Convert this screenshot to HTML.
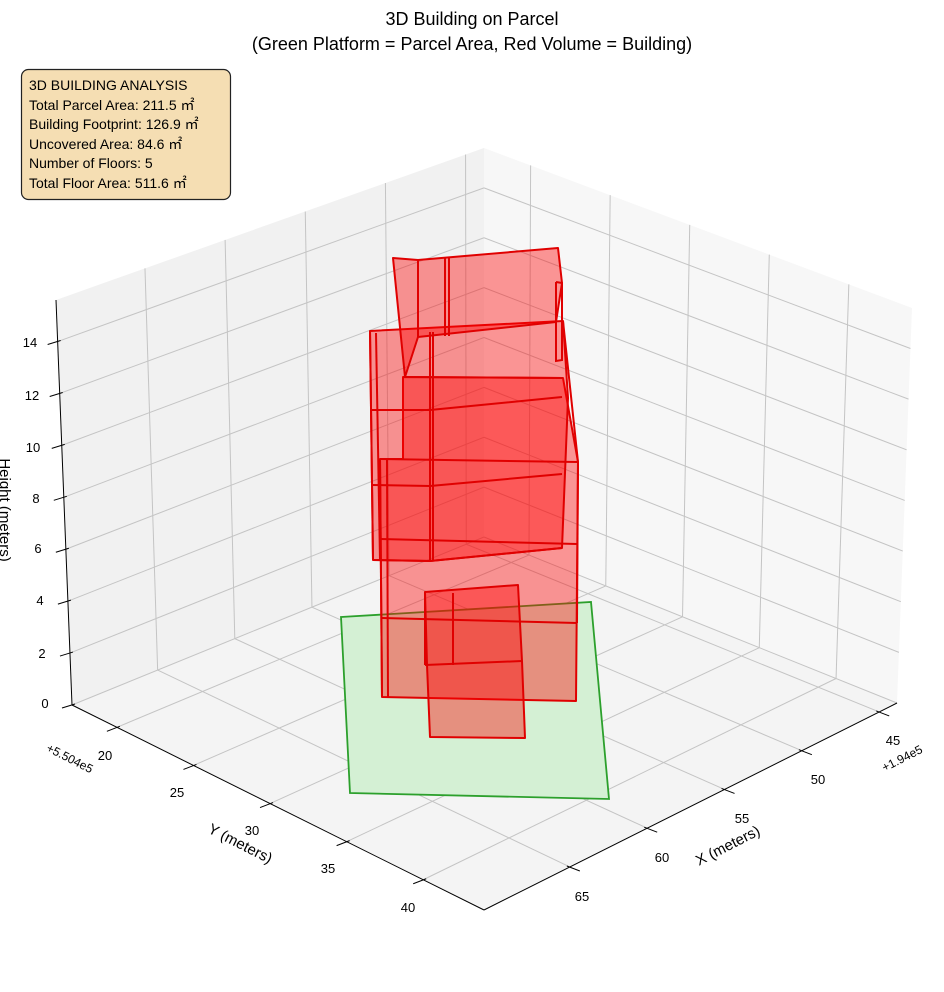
<!DOCTYPE html>
<html><head><meta charset="utf-8"><style>
html,body{margin:0;padding:0;background:#fff;}
svg{display:block;font-family:"Liberation Sans","Noto Sans CJK JP",sans-serif;}
</style></head><body>
<svg id="s" width="944" height="992" viewBox="0 0 944 992" xmlns="http://www.w3.org/2000/svg">
<rect width="944" height="992" fill="#fff"/>
<g id="panes"></g>
<g id="grid" stroke="#c4c4c4" stroke-width="1" fill="none"></g>
<g id="axes" stroke="#000" stroke-width="1" fill="none"></g>
<!-- parcel -->
<polygon points="341,617 591,602 609,799 350,793" fill="#d4f0d4" stroke="#2ca02c" stroke-width="1.8"/>
<!-- building -->
<g stroke="#e00000" stroke-width="2" stroke-linejoin="round">
<polygon points="403,377 563,378 578,462 576,701 382,697 380,459 403,459" fill="rgba(255,0,0,0.4)"/>
<polygon points="370,331 563,321 568,398 562,548 430,561 373,560" fill="rgba(255,0,0,0.4)"/>
<polygon points="393,258 418,260 558,248 562,283 556,322 418,337 405,377" fill="rgba(255,0,0,0.4)"/>
<polygon points="425,592 518,585 522,661 525,738 430,737 427,665" fill="rgba(255,0,0,0.4)"/>
</g>
<g stroke="#e00000" stroke-width="2" fill="none">
<polyline points="418,260 418,337"/><polyline points="445,258 445,336"/><polyline points="449,258 449,336"/>
<polyline points="556,282 562,283 562,360 556,361 556,282"/>
<polyline points="403,377 563,378"/>
<polyline points="370,410 430,410 562,397"/>
<polyline points="380,459 578,462"/>
<polyline points="372,485 430,486 562,474"/>
<polyline points="380,539 577,544"/>
<polyline points="373,560 430,561 562,548"/>
<polyline points="382,618 577,623"/>
<polyline points="430,332 430,561"/><polyline points="433,332 433,561"/>
<polyline points="370,331 373,560"/><polyline points="376,333 380,560"/>
<polyline points="380,459 382,697"/><polyline points="387,459 388,697"/>
<polyline points="563,321 578,462"/><polyline points="578,462 577,623"/>
<polyline points="425,665 522,661"/><polyline points="453,593 453,665"/><polyline points="425,592 425,665"/>
</g>
<!-- tick labels -->
<g font-size="13" fill="#000" text-anchor="middle">
<text x="30" y="347">14</text><text x="32" y="400">12</text><text x="33" y="452">10</text><text x="36" y="503">8</text>
<text x="38" y="553">6</text><text x="40" y="605">4</text><text x="42" y="658">2</text><text x="45" y="708">0</text>
<text x="105" y="760">20</text><text x="177" y="797">25</text><text x="252" y="835">30</text><text x="328" y="873">35</text><text x="408" y="912">40</text>
<text x="893" y="745">45</text><text x="818" y="784">50</text><text x="742" y="823">55</text><text x="662" y="862">60</text><text x="582" y="901">65</text>
</g>
<g font-size="12" fill="#000" text-anchor="middle">
<text transform="translate(68,762) rotate(27)">+5.504e5</text>
<text transform="translate(904,762) rotate(-27)">+1.94e5</text>
</g>
<g font-size="15" fill="#000" text-anchor="middle">
<text transform="translate(238,848) rotate(27)">Y (meters)</text>
<text transform="translate(730,850) rotate(-27)">X (meters)</text>
<text transform="translate(0,510) rotate(90)">Height (meters)</text>
</g>
<g font-size="18" fill="#000" text-anchor="middle">
<text x="472" y="25">3D Building on Parcel</text>
<text x="472" y="50">(Green Platform = Parcel Area, Red Volume = Building)</text>
</g>
<rect x="21.5" y="69.5" width="209" height="130" rx="7" fill="#f5deb3" stroke="#222" stroke-width="1.2"/>
<g font-size="14" fill="#000">
<text x="29" y="90">3D BUILDING ANALYSIS</text>
<text x="29" y="110">Total Parcel Area: 211.5 ㎡</text>
<text x="29" y="129">Building Footprint: 126.9 ㎡</text>
<text x="29" y="149">Uncovered Area: 84.6 ㎡</text>
<text x="29" y="168">Number of Floors: 5</text>
<text x="29" y="188">Total Floor Area: 511.6 ㎡</text>
</g>
</svg>
<script>
(function(){
var NS="http://www.w3.org/2000/svg";
var C={L:[72,705,405,-16],F:[484,910,415,0],R:[897,703,395,15],B:[484,537,389,0]};
var ymin=17.07,yr=26.9,xmax=70.55,xr=26.7,zmax=15.6,xmin=xmax-xr,ymax=ymin+yr;
function P(X,Y,Z){var a=(Y-ymin)/yr,b=(xmax-X)/xr;
var w={L:(1-a)*(1-b),F:a*(1-b),R:a*b,B:(1-a)*b},x=0,y=0,h=0,dx=0;
for(var k in w){x+=w[k]*C[k][0];y+=w[k]*C[k][1];h+=w[k]*C[k][2];dx+=w[k]*C[k][3];}
var t=Z/zmax;return [x+dx*t,y-h*t];}
function line(g,p,q){var l=document.createElementNS(NS,"line");l.setAttribute("x1",p[0]);l.setAttribute("y1",p[1]);l.setAttribute("x2",q[0]);l.setAttribute("y2",q[1]);g.appendChild(l);}
function poly(g,pts,fill){var e=document.createElementNS(NS,"polygon");e.setAttribute("points",pts.map(function(p){return p.join(",");}).join(" "));e.setAttribute("fill",fill);e.setAttribute("stroke","none");g.appendChild(e);}
var pn=document.getElementById("panes"),g=document.getElementById("grid"),ax=document.getElementById("axes");
poly(pn,[P(xmax,ymin,0),P(xmin,ymin,0),P(xmin,ymax,0),P(xmax,ymax,0)],"#f4f4f4");
poly(pn,[P(xmax,ymin,0),P(xmin,ymin,0),P(xmin,ymin,zmax),P(xmax,ymin,zmax)],"#f1f1f1");
poly(pn,[P(xmin,ymin,0),P(xmin,ymax,0),P(xmin,ymax,zmax),P(xmin,ymin,zmax)],"#f7f7f7");
var X,Y,Z;
for(X=45;X<=65;X+=5){line(g,P(X,ymin,0),P(X,ymin,zmax));line(g,P(X,ymin,0),P(X,ymax,0));}
for(Y=20;Y<=40;Y+=5){line(g,P(xmin,Y,0),P(xmin,Y,zmax));line(g,P(xmin,Y,0),P(xmax,Y,0));}
for(Z=0;Z<=14;Z+=2){line(g,P(xmax,ymin,Z),P(xmin,ymin,Z));line(g,P(xmin,ymin,Z),P(xmin,ymax,Z));}
line(ax,P(xmax,ymin,0),P(xmax,ymin,zmax));
line(ax,P(xmax,ymin,0),P(xmax,ymax,0));
line(ax,P(xmax,ymax,0),P(xmin,ymax,0));
for(Z=0;Z<=14;Z+=2){var p=P(xmax,ymin,Z);line(ax,[p[0]-10,p[1]+3],[p[0]+3,p[1]-1]);}
for(Y=20;Y<=40;Y+=5){var p=P(xmax,Y,0);line(ax,[p[0]-10,p[1]+4],[p[0]+3,p[1]-1]);}
for(X=45;X<=65;X+=5){var p=P(X,ymax,0);line(ax,[p[0]+10,p[1]+4],[p[0]-3,p[1]-1]);}
})();
</script>
</body></html>
